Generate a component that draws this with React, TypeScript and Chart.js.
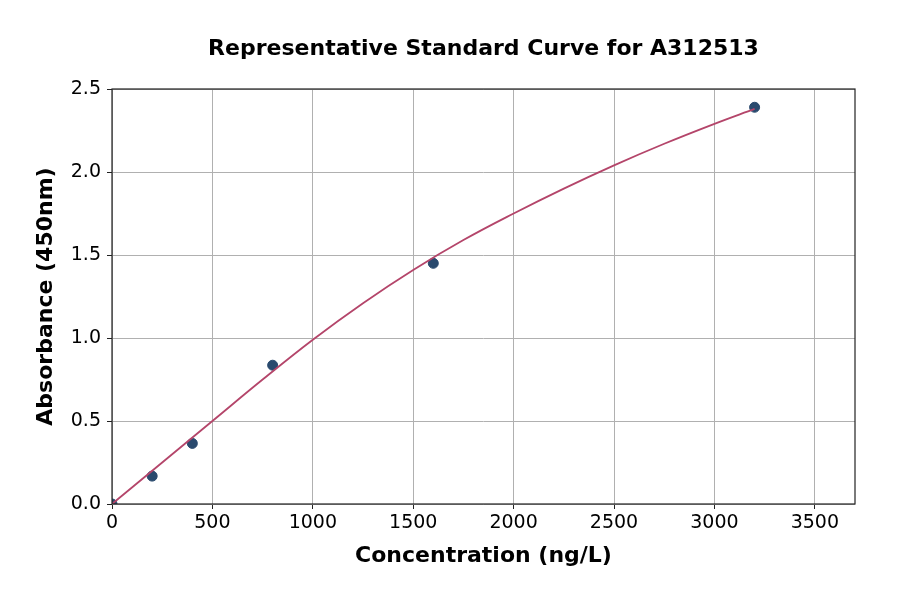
import { useEffect, useRef } from "react";
import { Chart, registerables } from "chart.js";

Chart.register(...registerables);

// measured standards
const concentrations = [0, 200, 400, 800, 1600, 3200];
const absorbances = [0.0, 0.168, 0.365, 0.836, 1.45, 2.39];

// fitted curve
const curveX = [0, 250, 500, 750, 1000, 1250, 1500, 1750, 2000, 2250, 2500, 2750, 3000, 3200];
const curveY = [0.0, 0.25, 0.5, 0.75, 0.99, 1.21, 1.41, 1.59, 1.75, 1.9, 2.04, 2.17, 2.29, 2.38];

const xTicks = [0, 500, 1000, 1500, 2000, 2500, 3000, 3500];
const yTicks = [0, 0.5, 1.0, 1.5, 2.0, 2.5];

const title = "Representative Standard Curve for A312513";
const xLabel = "Concentration (ng/L)";
const yLabel = "Absorbance (450nm)";

const FONT = "'DejaVu Sans', sans-serif";

const frame = {
  id: "frame",
  afterDraw(chart: Chart) {
    const { ctx, chartArea: a } = chart;
    ctx.save();
    ctx.strokeStyle = "#222";
    ctx.lineWidth = 1.2;
    ctx.strokeRect(a.left, a.top, a.right - a.left, a.bottom - a.top);
    ctx.fillStyle = "#000";
    ctx.font = `bold 22px ${FONT}`;
    ctx.textAlign = "center";
    ctx.textBaseline = "middle";
    ctx.fillText(title, (a.left + a.right) / 2, 49);
    ctx.restore();
  },
};

export default function App() {
  const ref = useRef<HTMLCanvasElement>(null);
  const chart = useRef<Chart | null>(null);

  useEffect(() => {
    if (!ref.current) return;
    document.body.style.margin = "0";
    chart.current?.destroy();

    chart.current = new Chart(ref.current, {
      type: "scatter",
      data: {
        datasets: [
          {
            label: "points",
            data: concentrations.map((x, i) => ({ x, y: absorbances[i] })),
            backgroundColor: "#2a4a6e",
            borderColor: "#2a4a6e",
            pointRadius: 5,
            order: 1,
          },
          {
            label: "fit",
            data: curveX.map((x, i) => ({ x, y: curveY[i] })),
            showLine: true,
            borderColor: "#b4456a",
            borderWidth: 1.8,
            pointRadius: 0,
            tension: 0.4,
            order: 0,
          },
        ],
      },
      options: {
        animation: false,
        responsive: false,
        layout: { padding: { top: 89, right: 45, left: 0, bottom: 0 } },
        plugins: {
          legend: { display: false },
          tooltip: { enabled: false },
        },
        scales: {
          x: {
            type: "linear",
            min: 0,
            max: 3700,
            afterFit: (s: any) => { s.height = 90; },
            afterBuildTicks: (s: any) => { s.ticks = xTicks.map((v) => ({ value: v })); },
            grid: { color: "#b0b0b0", lineWidth: 1, tickColor: "#222", tickLength: 5 },
            border: { display: false },
            ticks: {
              color: "#000",
              font: { family: FONT, size: 19 },
              padding: 3,
              maxRotation: 0,
              callback: (v: any) => String(v),
            },
            title: {
              display: true,
              text: xLabel,
              color: "#000",
              font: { family: FONT, size: 22, weight: "bold" },
              padding: { top: 0, bottom: 25 },
            },
          },
          y: {
            type: "linear",
            min: 0,
            max: 2.5,
            afterFit: (s: any) => { s.width = 112; },
            afterBuildTicks: (s: any) => { s.ticks = yTicks.map((v) => ({ value: v })); },
            grid: { color: "#b0b0b0", lineWidth: 1, tickColor: "#222", tickLength: 5 },
            border: { display: false },
            ticks: {
              color: "#000",
              font: { family: FONT, size: 19 },
              padding: 6,
              callback: (v: any) => Number(v).toFixed(1),
            },
            title: {
              display: true,
              text: yLabel,
              color: "#000",
              font: { family: FONT, size: 22, weight: "bold" },
              padding: { top: 33, bottom: 0 },
            },
          },
        },
      },
      plugins: [frame],
    });

    return () => chart.current?.destroy();
  }, []);

  return (
    <div style={{ position: "absolute", left: 0, top: 0, width: 900, height: 594, background: "#fff" }}>
      <canvas ref={ref} width={900} height={594} />
    </div>
  );
}
